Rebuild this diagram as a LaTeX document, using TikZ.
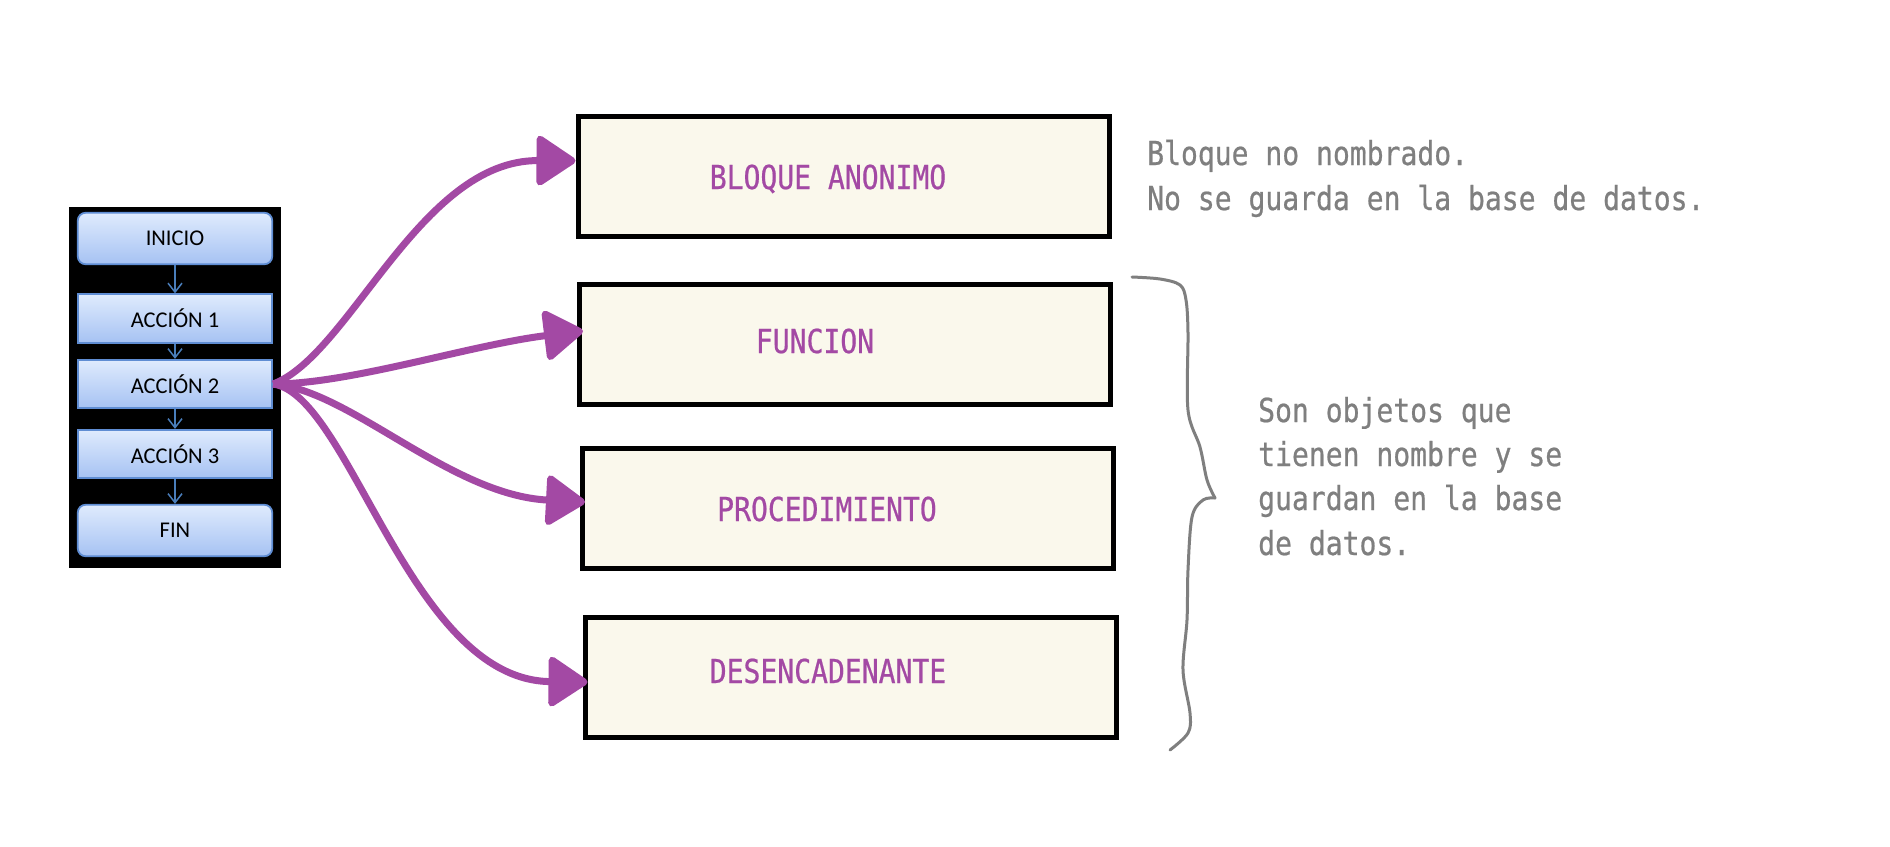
\documentclass[tikz,border=0pt]{standalone}
\usepackage{fontspec}
\usetikzlibrary{arrows.meta}
\newfontfamily\monofnt[FakeStretch=0.85,FakeBold=0.6]{DejaVu Sans Mono}
\newfontfamily\calfnt{Carlito}
\definecolor{purp}{HTML}{A349A4}
\definecolor{cream}{HTML}{FAF8EC}
\definecolor{graytxt}{HTML}{7F7F7F}
\definecolor{flowedge}{HTML}{5F8DD3}
\definecolor{flowtop}{HTML}{DFEBFD}
\definecolor{flowbot}{HTML}{A6C2F3}
\definecolor{smallarr}{HTML}{4A7EBB}
\tikzset{
  flowbox/.style={draw=flowedge, line width=1.8pt, top color=flowtop, bottom color=flowbot,
    minimum width=194.5pt, minimum height=48.5pt, inner sep=0pt,
    font=\calfnt\fontsize{22.5}{22.5}\selectfont},
  flowround/.style={flowbox, rounded corners=8pt, minimum height=51.5pt},
  smallarrow/.style={draw=smallarr, line width=1.5pt, -{Straight Barb[length=9pt,width=14pt]}},
  bigbox/.style={draw=black, line width=5pt, fill=cream, inner sep=0pt,
    minimum width=531pt, minimum height=120pt},
  boxlabel/.style={font=\monofnt\fontsize{33}{33}\selectfont, text=purp, inner sep=0pt, anchor=base},
  note/.style={font=\monofnt\fontsize{33}{33}\selectfont, text=graytxt, inner sep=0pt, anchor=base west},
  conn/.style={draw=purp, line width=7pt, -{Triangle[length=42pt,width=54pt,round]}},
  bracestyle/.style={draw=graytxt, line width=3pt, line cap=round, line join=round}
}
\begin{document}
\begin{tikzpicture}[x=1pt,y=-1pt]
\fill[white] (0,0) rectangle (1890,846);
\useasboundingbox (0,0) rectangle (1890,846);

% left flowchart panel
\node[fill=black, draw=none, inner sep=0pt, minimum width=212pt, minimum height=361pt] (panel) at (175,387.5) {};
\node[flowround] (ini) at (175,238.5) {INICIO};
\node[flowbox] (a1) at (175,318.5) {ACCIÓN 1};
\node[flowbox] (a2) at (175,384) {ACCIÓN 2};
\node[flowbox] (a3) at (175,454) {ACCIÓN 3};
\node[flowround] (fin) at (175,530.5) {FIN};
\draw[smallarrow] (ini.south) -- (a1.north);
\draw[smallarrow] (a1.south) -- (a2.north);
\draw[smallarrow] (a2.south) -- (a3.north);
\draw[smallarrow] (a3.south) -- (fin.north);

% big boxes
\node[bigbox] (b1) at (843.5,176.75) {};
\node[bigbox] (b2) at (845,344) {};
\node[bigbox] (b3) at (848,508.5) {};
\node[bigbox] (b4) at (850.5,677) {};
\node[boxlabel] (t1) at (828,189) {BLOQUE ANONIMO};
\node[boxlabel] (t2) at (815,353) {FUNCION};
\node[boxlabel] (t3) at (827,521) {PROCEDIMIENTO};
\node[boxlabel] (t4) at (828,683) {DESENCADENANTE};

% connectors
\draw[conn] (a2.east) .. controls (350,355) and (420,160) .. ([yshift=16pt]b1.west);
\draw[conn] (a2.east) .. controls (350,384) and (470,345) .. ([xshift=6pt,yshift=13pt]b2.west);
\draw[conn] (a2.east) .. controls (350,390) and (450,495) .. ([xshift=5pt,yshift=6.5pt]b3.west);
\draw[conn] (a2.east) .. controls (350,395) and (410,680) .. ([xshift=5pt,yshift=-5pt]b4.west);

% notes
\node[note] (n1a) at (1147,165) {Bloque no nombrado.};
\node[note] (n1b) at (1147,210) {No se guarda en la base de datos.};
\node[note] (n2a) at (1258,422) {Son objetos que};
\node[note] (n2b) at (1258,466) {tienen nombre y se};
\node[note] (n2c) at (1258,510) {guardan en la base};
\node[note] (n2d) at (1258,555) {de datos.};

% hand-drawn brace
\draw[bracestyle] plot[smooth, tension=0.55] coordinates {(1132,277) (1160,279) (1180,285) (1186,300) (1188,333) (1188,410) (1200,447) (1207,480) (1215,498)};
\draw[bracestyle] plot[smooth, tension=0.55] coordinates {(1215,498) (1203,500) (1192,517) (1188,570) (1187,620) (1183,670) (1190,713) (1188,733) (1170,750)};
\end{tikzpicture}
\end{document}
